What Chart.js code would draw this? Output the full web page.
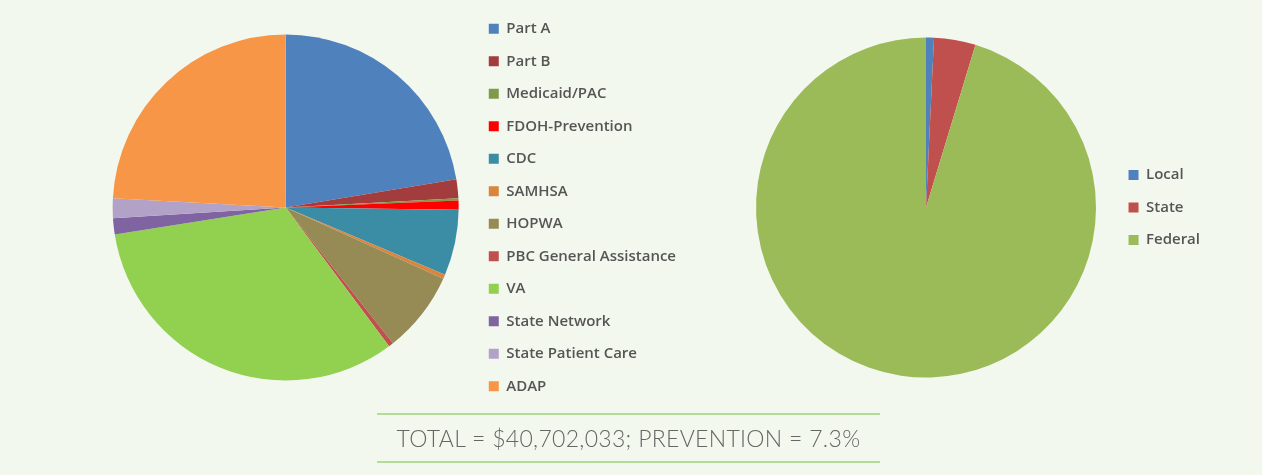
<!DOCTYPE html>
<html>
<head>
<meta charset="utf-8">
<script src="https://cdn.jsdelivr.net/npm/chart.js@4.4.1/dist/chart.umd.min.js"></script>
<style>
  html, body { margin: 0; padding: 0; }
  body { width: 1262px; height: 475px; background: #f3f8ef; position: relative; overflow: hidden; font-family: Lato, "Open Sans", sans-serif; }
  .box { position: absolute; top: 0; height: 415px; }
  #leftBox { left: 0; width: 686px; }
  #rightBox { left: 700px; width: 510px; }
  .total {
    position: absolute; left: 377px; top: 413px; width: 503px; height: 46px;
    border-top: 2px solid #b3dc96; border-bottom: 2px solid #b3dc96;
    text-align: center; line-height: 46px; font-size: 23px; font-weight: 300;
    color: #666; letter-spacing: 0.3px;
  }
</style>
</head>
<body>
<div class="box" id="leftBox"><canvas id="sourceChart"></canvas></div>
<div class="box" id="rightBox"><canvas id="levelChart"></canvas></div>
<div class="total">TOTAL = $40,702,033; PREVENTION = 7.3%</div>
<script>
// funding by source, share of total (%)
const sources = ["Part A", "Part B", "Medicaid/PAC", "FDOH-Prevention", "CDC", "SAMHSA", "HOPWA",
                 "PBC General Assistance", "VA", "State Network", "State Patient Care", "ADAP"];
const sourceShare = [22.4, 1.75, 0.2, 0.85, 6.15, 0.4, 7.6, 0.45, 32.7, 1.5, 1.85, 24.15];
const sourceColors = ["#4f81bd", "#a33c3d", "#7f9a48", "#ff0000", "#3b8da6", "#d9853d", "#968b55",
                      "#c0504d", "#92d050", "#8064a2", "#b3a2c7", "#f79646"];

// funding by government level (%)
const levels = ["Local", "State", "Federal"];
const levelShare = [0.75, 3.95, 95.3];
const levelColors = ["#4f81bd", "#c0504d", "#9bbb59"];

const legendLabels = {
    boxWidth: 10,
    boxHeight: 10,
    padding: 17.5,
    color: "#555",
    font: { family: "Open Sans", size: 15, weight: "600" }
};

function makePie(id, labels, values, colors, radius, padLeft) {
    new Chart(document.getElementById(id), {
        type: "pie",
        data: {
            labels: labels,
            datasets: [{
                data: values,
                backgroundColor: colors,
                borderWidth: 0,
                radius: radius
            }]
        },
        options: {
            responsive: true,
            maintainAspectRatio: false,
            animation: false,
            layout: { padding: { left: padLeft } },
            plugins: {
                legend: { position: "right", labels: legendLabels },
                tooltip: { enabled: false }
            }
        }
    });
}

makePie("sourceChart", sources, sourceShare, sourceColors, 173, 100);
makePie("levelChart", levels, levelShare, levelColors, 170, 41);
</script>
</body>
</html>
